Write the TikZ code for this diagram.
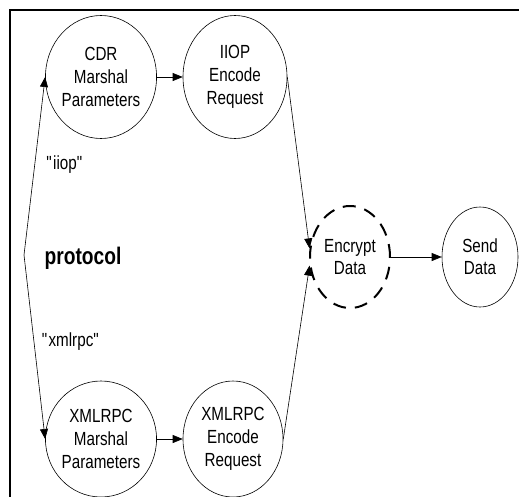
\documentclass[tikz,border=0pt]{standalone}
\usepackage{fontspec}
\setmainfont{Liberation Sans}
\newfontfamily\narrowfont[FakeStretch=0.8]{Liberation Sans}
\usetikzlibrary{shapes.geometric,arrows.meta}
\begin{document}
\begin{tikzpicture}[x=1pt,y=-1pt,
  proc/.style={ellipse,draw,line width=0.6pt,inner sep=0pt,minimum width=104pt,minimum height=123pt,
    align=center,font=\narrowfont\fontsize{19}{23}\selectfont},
  arr/.style={-{Triangle[length=10pt,width=8pt]},line width=0.6pt},
  lbl/.style={font=\narrowfont\fontsize{19}{22}\selectfont,inner sep=0pt}]
\useasboundingbox (0,0) rectangle (519,496);
\draw[line width=2pt] (10,497) -- (10,10) -- (520,10);
\node[proc] (cdr) at (101,77) {CDR\\Marshal\\Parameters};
\node[proc] (iiop) at (235,77) {IIOP\\Encode\\Request};
\node[proc,minimum height=116pt] (xm) at (101,439) {XMLRPC\\Marshal\\Parameters};
\node[proc,minimum width=100pt,minimum height=116pt] (xe) at (233,439) {XMLRPC\\Encode\\Request};
\node[proc,minimum width=80pt,minimum height=102pt,line width=2pt,dash pattern=on 13pt off 9pt,font=\narrowfont\fontsize{19}{22}\selectfont] (enc) at (350,257) {Encrypt\\Data};
\node[proc,minimum width=76pt,minimum height=100pt,font=\narrowfont\fontsize{19}{22}\selectfont] (send) at (480,257) {Send\\Data};
\coordinate (p) at (24,255);
\node[font=\narrowfont\fontsize{24}{28}\selectfont\bfseries,inner sep=0pt] (proto) at (83,258) {protocol};
\node[lbl] (liiop) at (65,165) {\textquotedbl iiop\textquotedbl};
\node[lbl] (lxml) at (71,342) {\textquotedbl xmlrpc\textquotedbl};
\draw[arr] (cdr.east) -- (iiop.west);
\draw[arr] (xm.east) -- (xe.west);
\draw[arr] (iiop.east) -- (enc.168);
\draw[arr] (xe.east) -- (enc.192);
\draw[arr] (enc.east) -- (send.west);
\draw[arr] (p) -- (cdr.west);
\draw[arr] (p) -- (xm.west);
\end{tikzpicture}
\end{document}
